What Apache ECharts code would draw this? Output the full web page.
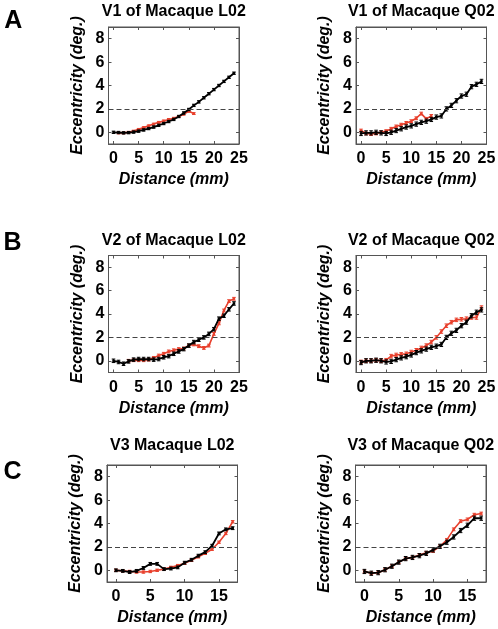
<!DOCTYPE html>
<html><head><meta charset="utf-8">
<script src="https://cdn.jsdelivr.net/npm/echarts@6/dist/echarts.min.js"></script>
<style>html,body{margin:0;padding:0;background:#fff}#c{width:498px;height:629px}</style>
</head><body><div id="c"></div>
<script>
// ---------- data ----------
const TITLES = ['V1 of Macaque L02','V1 of Macaque Q02','V2 of Macaque L02','V2 of Macaque Q02','V3 Macaque L02','V3 of Macaque Q02'];
const LETTERS = ['A','B','C'];
const X_NAME = 'Distance (mm)';
const Y_NAME = 'Eccentricity (deg.)';
const XTICKS_25 = [0,5,10,15,20,25];
const XTICKS_17 = [0,5,10,15];
const YTICKS = [0,2,4,6,8];
const THRESHOLD = 2;

const x0to24 = [0,1,2,3,4,5,6,7,8,9,10,11,12,13,14,15,16,17,18,19,20,21,22,23,24];
const x0to17 = [0,1,2,3,4,5,6,7,8,9,10,11,12,13,14,15,16,17];
const x1to16 = [1,2,3,4,5,6,7,8,9,10,11,12,13,14,15,16];
const x0to14 = [0,1,2,3,4,5,6,7,8,9,10,11,12,13,14];
const x3to24 = [3,4,5,6,7,8,9,10,11,12,13,14,15,16,17,18,19,20,21,22,23,24];

const v1L02Black = [0,-0.02,-0.05,-0.03,0.02,0.1,0.2,0.32,0.45,0.6,0.75,0.92,1.1,1.35,1.65,1.95,2.3,2.6,2.95,3.3,3.65,4.0,4.35,4.7,5.05];
const v1L02Red   = [-0.05,-0.05,0.0,0.1,0.25,0.4,0.55,0.7,0.85,0.97,1.1,1.2,1.35,1.55,1.8,1.6];
const v1Q02Black = [-0.1,-0.05,-0.05,0.0,-0.05,-0.1,0.0,0.15,0.3,0.45,0.55,0.7,0.85,0.95,1.1,1.3,1.4,2.0,2.3,2.7,3.1,3.25,3.9,4.1,4.35];
const v1Q02Red   = [0.15,-0.1,-0.15,-0.1,0.0,0.1,0.3,0.5,0.65,0.8,0.95,1.2,1.6,1.15,1.4];
const v2L02Black = [0.0,-0.1,-0.25,-0.05,0.1,0.15,0.15,0.15,0.1,0.15,0.3,0.4,0.6,0.8,1.0,1.3,1.6,1.8,2.0,2.3,2.7,3.6,3.85,4.4,4.9];
const v2L02Red   = [0.0,0.05,0.05,0.05,0.1,0.25,0.45,0.6,0.8,0.9,1.0,1.05,1.3,1.4,1.25,1.1,1.3,2.3,3.2,4.3,5.1,5.3];
const v2Q02Black = [-0.15,0.0,0.0,0.05,0.0,-0.1,-0.05,0.1,0.25,0.35,0.5,0.7,0.85,1.0,1.15,1.25,1.4,2.0,2.35,2.6,3.0,3.3,3.85,4.15,4.35];
const v2Q02Red   = [-0.1,0.0,0.0,0.05,0.0,0.05,0.4,0.5,0.55,0.6,0.75,0.9,1.1,1.3,1.6,2.0,2.5,3.0,3.3,3.5,3.55,3.6,3.7,3.7,4.55];
const v3L02Black = [0.0,-0.05,-0.15,-0.05,0.2,0.55,0.55,0.1,0.15,0.25,0.65,0.9,1.25,1.55,2.1,3.15,3.5,3.6];
const v3L02Red   = [0.0,-0.05,-0.1,-0.15,-0.15,-0.1,0.0,0.1,0.25,0.4,0.6,0.85,1.15,1.45,1.8,2.4,3.15,4.15];
const v3Q02Black = [-0.1,-0.25,-0.2,0.05,0.35,0.7,1.0,1.1,1.25,1.45,1.75,2.05,2.4,2.85,3.4,3.85,4.45,4.45];
const v3Q02Red   = [-0.1,-0.25,-0.2,0.05,0.35,0.7,1.0,1.1,1.3,1.5,1.65,2.05,2.6,3.5,4.2,4.35,4.75,4.85];

// error-bar half widths (estimated)
const errBlack = [0.1,0.18,0.15,0.18,0.12,0.18];
const errRed   = [0.08,0.12,0.12,0.15,0.1,0.12];

// ---------- layout ----------
const FONT = "'Liberation Sans', Arial, Helvetica, sans-serif";
const RED = '#e8402d';
const BLACK = '#000000';
const FRAME = '#555555';
const GW = 130.5, GH = 117;
const panels = [
  {left:108.5, top:27,    xmin:-1,   xmax:25,   xt:XTICKS_25, bx:x0to24, by:v1L02Black, rx:x1to16, ry:v1L02Red},
  {left:356,   top:27,    xmin:-1,   xmax:25,   xt:XTICKS_25, bx:x0to24, by:v1Q02Black, rx:x0to14, ry:v1Q02Red},
  {left:108.5, top:255.5, xmin:-1,   xmax:25,   xt:XTICKS_25, bx:x0to24, by:v2L02Black, rx:x3to24, ry:v2L02Red},
  {left:356,   top:255.5, xmin:-1,   xmax:25,   xt:XTICKS_25, bx:x0to24, by:v2Q02Black, rx:x0to24, ry:v2Q02Red},
  {left:107,   top:465,   xmin:-1.3, xmax:17.7, xt:XTICKS_17, bx:x0to17, by:v3L02Black, rx:x0to17, ry:v3L02Red},
  {left:355.5, top:465,   xmin:-1.3, xmax:17.7, xt:XTICKS_17, bx:x0to17, by:v3Q02Black, rx:x0to17, ry:v3Q02Red},
];
const titleY = [11.3, 11.3, 240.8, 240.8, 445.8, 445.8];
const letterPos = [[13.3,20.8],[12.5,243],[12.5,472.5]];

const grid = [], xAxis = [], yAxis = [], series = [], graphic = [];
const zip = (xs, ys, e) => xs.map((x,i)=>[x, ys[i], e]);

function errRender(color){
  return function(params, api){
    const x = api.value(0), y = api.value(1), e = api.value(2);
    const t = api.coord([x, y+e]), b = api.coord([x, y-e]);
    const c = 1.8;
    const st = {stroke: color, lineWidth: 1};
    return {type:'group', children:[
      {type:'line', shape:{x1:t[0],y1:t[1],x2:b[0],y2:b[1]}, style:st},
      {type:'line', shape:{x1:t[0]-c,y1:t[1],x2:t[0]+c,y2:t[1]}, style:st},
      {type:'line', shape:{x1:b[0]-c,y1:b[1],x2:b[0]+c,y2:b[1]}, style:st}
    ]};
  };
}

panels.forEach((p, i) => {
  grid.push({left:p.left, top:p.top, width:GW, height:GH, show:true, backgroundColor:'#fff', borderColor:FRAME, borderWidth:1, outerBoundsMode:'none', containLabel:false});
  const tickCommon = {show:true, inside:true, length:3, lineStyle:{color:FRAME}};
  xAxis.push({gridIndex:i, type:'value', min:p.xmin, max:p.xmax, position:'bottom',
    axisLine:{show:true, onZero:false, lineStyle:{color:FRAME}},
    axisTick:Object.assign({customValues:p.xt}, tickCommon),
    axisLabel:{customValues:p.xt, color:'#000', fontFamily:FONT, fontWeight:'bold', fontSize:16, margin:7},
    splitLine:{show:false},
    name:X_NAME, nameLocation:'middle', nameGap:28,
    nameTextStyle:{color:'#000', fontFamily:FONT, fontWeight:'bold', fontStyle:'italic', fontSize:16}});
  xAxis.push({gridIndex:i, type:'value', min:p.xmin, max:p.xmax, position:'top',
    axisLine:{show:true, onZero:false, lineStyle:{color:FRAME}},
    axisTick:Object.assign({customValues:p.xt}, tickCommon),
    axisLabel:{show:false}, splitLine:{show:false}});
  yAxis.push({gridIndex:i, type:'value', min:-1, max:9, position:'left',
    axisLine:{show:true, onZero:false, lineStyle:{color:FRAME}},
    axisTick:Object.assign({customValues:YTICKS}, tickCommon),
    axisLabel:{customValues:YTICKS, color:'#000', fontFamily:FONT, fontWeight:'bold', fontSize:16, margin:4},
    splitLine:{show:false},
    name:Y_NAME, nameLocation:'middle', nameGap:23, nameRotate:90,
    nameTextStyle:{color:'#000', fontFamily:FONT, fontWeight:'bold', fontStyle:'italic', fontSize:16}});
  yAxis.push({gridIndex:i, type:'value', min:-1, max:9, position:'right',
    axisLine:{show:true, onZero:false, lineStyle:{color:FRAME}},
    axisTick:Object.assign({customValues:YTICKS}, tickCommon),
    axisLabel:{show:false}, splitLine:{show:false}});

  const xi = 2*i, yi = 2*i;
  series.push({type:'line', xAxisIndex:xi, yAxisIndex:yi, data:zip(p.rx, p.ry), z:3,
    lineStyle:{color:RED, width:1.6}, itemStyle:{color:RED}, symbol:'circle', symbolSize:2.5, showSymbol:true, animation:false, silent:true});
  series.push({type:'custom', xAxisIndex:xi, yAxisIndex:yi, data:zip(p.rx, p.ry, errRed[i]), renderItem:errRender(RED), z:3, animation:false, silent:true});
  series.push({type:'line', xAxisIndex:xi, yAxisIndex:yi, data:zip(p.bx, p.by), z:4,
    lineStyle:{color:BLACK, width:1.8}, itemStyle:{color:BLACK}, symbol:'rect', symbolSize:2.5, showSymbol:true, animation:false, silent:true,
    markLine:{silent:true, symbol:'none', label:{show:false}, lineStyle:{color:'#444', type:[5,3], width:1}, data:[{yAxis:THRESHOLD}]}});
  series.push({type:'custom', xAxisIndex:xi, yAxisIndex:yi, data:zip(p.bx, p.by, errBlack[i]), renderItem:errRender(BLACK), z:4, animation:false, silent:true});

  graphic.push({type:'text', x:p.left + GW/2, y:titleY[i], style:{text:TITLES[i], font:`bold 16px ${FONT}`, fill:'#000', textAlign:'center', textVerticalAlign:'middle'}});
});
LETTERS.forEach((L, k) => {
  graphic.push({type:'text', x:letterPos[k][0], y:letterPos[k][1], style:{text:L, font:`bold 25px ${FONT}`, fill:'#000', textAlign:'center', textVerticalAlign:'middle'}});
});

const chart = echarts.init(document.getElementById('c'), null, {renderer:'canvas'});
chart.setOption({animation:false, backgroundColor:'#fff', grid, xAxis, yAxis, series, graphic});
</script>
</body></html>
